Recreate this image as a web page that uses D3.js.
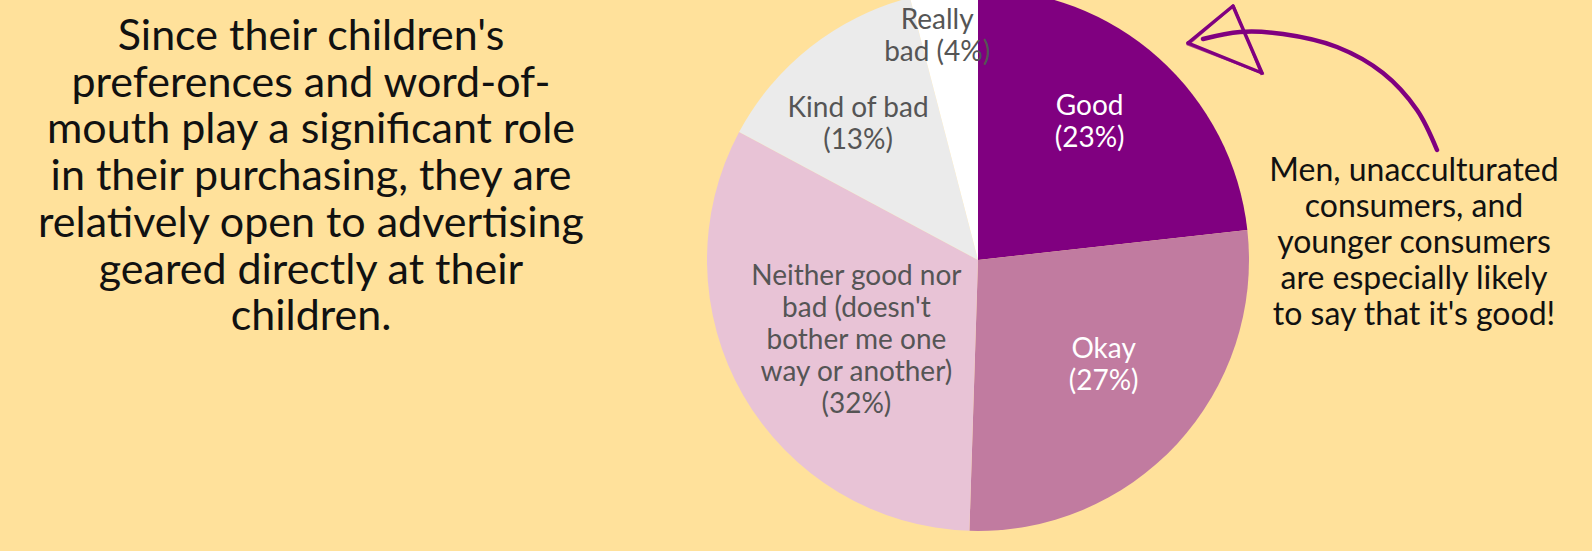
<!DOCTYPE html>
<html>
<head>
<meta charset="utf-8">
<script src="https://cdn.jsdelivr.net/npm/d3@7"></script>
<style>
  body { margin: 0; background: #ffe19b; }
  svg { display: block; }
</style>
</head>
<body>
<script>
let width = 1592;
let height = 551;

// answers, clockwise from 12 o'clock
let categories = ["Good", "Okay", "Neither good nor bad (doesn't bother me one way or another)", "Kind of bad", "Really bad"];
let shares = [23, 27, 32, 13, 4];
let labelLines = [
  ["Good", "(23%)"],
  ["Okay", "(27%)"],
  ["Neither good nor", "bad (doesn't", "bother me one", "way or another)", "(32%)"],
  ["Kind of bad", "(13%)"],
  ["Really", "bad (4%)"]
];
let sliceColors = ["#800080", "#c17ba0", "#e8c3d6", "#ebebeb", "#ffffff"];
let labelColors = ["#ffffff", "#ffffff", "#555555", "#555555", "#555555"];

let introLines = ["Since their children's", "preferences and word-of-", "mouth play a significant role",
  "in their purchasing, they are", "relatively open to advertising", "geared directly at their", "children."];
let noteLines = ["Men, unacculturated", "consumers, and", "younger consumers", "are especially likely", "to say that it's good!"];

let font = "Lato, 'Open Sans', sans-serif";

let svg = d3.select("body").append("svg")
  .attr("width", width)
  .attr("height", height);

svg.append("rect").attr("width", width).attr("height", height).attr("fill", "#ffe19b");

let cx = 978, cy = 260, radius = 271;

let pie = d3.pie().sort(null).value(function(d) { return d; });
let arcs = pie(shares);
arcs.forEach(function(a, i) { a.index = i; });

let arc = d3.arc().innerRadius(0).outerRadius(radius);

// thin slices push their label outward, wide ones pull it in
let labelRadius = d3.scaleLinear().domain([4, 13, 23, 32]).range([0.845, 0.672, 0.657, 0.535]).clamp(true);
let labelTurn = -3 * Math.PI / 180;

let g = svg.append("g").attr("transform", "translate(" + cx + "," + cy + ")");

g.selectAll("path.slice").data(arcs).enter().append("path")
  .attr("class", "slice")
  .attr("d", arc)
  .attr("fill", function(d) { return sliceColors[d.index]; });

let lineH = 32;
let labels = g.selectAll("text.label").data(arcs).enter().append("text")
  .attr("class", "label")
  .attr("text-anchor", "middle")
  .attr("font-family", font)
  .attr("font-size", 28)
  .attr("fill", function(d) { return labelColors[d.index]; })
  .attr("transform", function(d) {
    let a = (d.startAngle + d.endAngle) / 2 + labelTurn;
    let r = labelRadius(d.data) * radius;
    return "translate(" + (r * Math.sin(a)) + "," + (-r * Math.cos(a)) + ")";
  });

labels.each(function(d) {
  let lines = labelLines[d.index];
  let t = d3.select(this);
  let y0 = -(lines.length - 1) * lineH / 2 + 10;
  lines.forEach(function(l, k) {
    t.append("tspan").attr("x", 0).attr("y", y0 + k * lineH).text(l);
  });
});

// left commentary
let intro = svg.append("text")
  .attr("text-anchor", "middle")
  .attr("font-family", font)
  .attr("font-size", 43)
  .attr("fill", "#111111");
introLines.forEach(function(l, k) {
  intro.append("tspan").attr("x", 311).attr("y", 50 + k * 46.7).text(l);
});

// right note
let note = svg.append("text")
  .attr("text-anchor", "middle")
  .attr("font-family", font)
  .attr("font-size", 32)
  .attr("fill", "#111111");
noteLines.forEach(function(l, k) {
  note.append("tspan").attr("x", 1414).attr("y", 181 + k * 36.1).text(l);
});

// hand-drawn arrow pointing at the "Good" slice
let arrowColor = "#800080";
let curve = d3.line().curve(d3.curveCatmullRom);
let shaft = [[1437, 150], [1417, 110], [1383, 73], [1337, 47], [1283, 34], [1240, 32], [1203, 39]];
svg.append("path")
  .attr("d", curve(shaft))
  .attr("fill", "none")
  .attr("stroke", arrowColor)
  .attr("stroke-width", 4.5)
  .attr("stroke-linecap", "round");

let head = [
  [[1188, 43], [1233, 6]],
  [[1233, 6], [1262, 73]],
  [[1262, 73], [1188, 43]]
];
head.forEach(function(s) {
  svg.append("path")
    .attr("d", d3.line()(s))
    .attr("stroke", arrowColor)
    .attr("stroke-width", 3.5)
    .attr("stroke-linecap", "round");
  svg.append("path")
    .attr("d", d3.line()([[s[0][0] + 1.5, s[0][1] + 1], [s[1][0] - 1, s[1][1] + 1.5]]))
    .attr("stroke", arrowColor)
    .attr("stroke-width", 1.5)
    .attr("stroke-opacity", 0.7)
    .attr("stroke-linecap", "round");
});
</script>
</body>
</html>
